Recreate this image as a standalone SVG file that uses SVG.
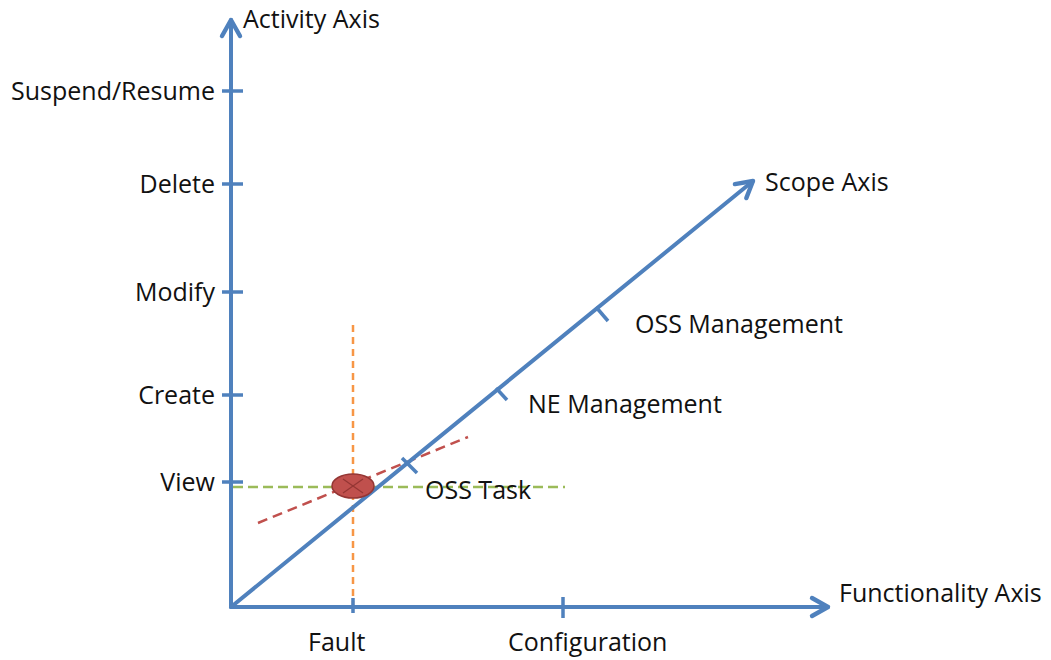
<svg xmlns="http://www.w3.org/2000/svg" width="1051" height="660" viewBox="0 0 1051 660">
  <style>
    .axis { stroke: #4F81BD; stroke-width: 4; fill: none; stroke-linecap: round; }
    .tick { stroke: #4F81BD; stroke-width: 3.5; fill: none; }
    .lbl { font-family: "Open Sans", "Liberation Sans", sans-serif; font-size: 25px; fill: #111111; }
    .end { text-anchor: end; }
  </style>
  <defs>
    <marker id="arrow" viewBox="0 0 12 12" refX="10" refY="6" markerWidth="6" markerHeight="6" orient="auto" markerUnits="strokeWidth">
      <path d="M2,1.5 L10,6 L2,10.5" fill="none" stroke="#4F81BD" stroke-width="2.2" stroke-linecap="round" stroke-linejoin="round"/>
    </marker>
  </defs>
  <rect width="1051" height="660" fill="#ffffff"/>

  <!-- guide lines through the task point -->
  <g id="guides">
    <line x1="353" y1="325" x2="353" y2="606" stroke="#F79646" stroke-width="2.5" stroke-dasharray="7,5"/>
    <line x1="233" y1="487" x2="565" y2="487" stroke="#9BBB59" stroke-width="2.5" stroke-dasharray="10,5"/>
    <line x1="258" y1="523" x2="468" y2="437" stroke="#C0504D" stroke-width="2.5" stroke-dasharray="10,6"/>
  </g>

  <!-- axes -->
  <g id="connectors">
    <line class="axis" x1="231" y1="607" x2="231" y2="20" marker-end="url(#arrow)"/>
    <line class="axis" x1="231" y1="607" x2="828" y2="607" marker-end="url(#arrow)"/>
    <line class="axis" x1="231" y1="607" x2="753" y2="181" marker-end="url(#arrow)"/>
  </g>

  <!-- activity ticks -->
  <g id="activity-ticks">
    <line class="tick" x1="222" y1="91" x2="243" y2="91"/>
    <line class="tick" x1="222" y1="184" x2="243" y2="184"/>
    <line class="tick" x1="222" y1="292" x2="243" y2="292"/>
    <line class="tick" x1="222" y1="395" x2="243" y2="395"/>
    <line class="tick" x1="222" y1="482" x2="243" y2="482"/>
  </g>

  <!-- functionality ticks -->
  <g id="functionality-ticks">
    <line class="tick" x1="353" y1="598" x2="353" y2="613"/>
    <line class="tick" x1="563" y1="597" x2="563" y2="618"/>
  </g>

  <!-- scope ticks -->
  <g id="scope-ticks">
    <line class="tick" x1="402" y1="458" x2="417" y2="473"/>
    <line class="tick" x1="496" y1="388" x2="507" y2="400"/>
    <line class="tick" x1="596" y1="307" x2="608" y2="321"/>
  </g>

  <!-- task marker -->
  <g id="task-point">
    <ellipse cx="353" cy="486" rx="21" ry="12" fill="#C0504D" stroke="#943634" stroke-width="1.5"/>
    <line x1="343" y1="479" x2="363" y2="493" stroke="#943634" stroke-width="1.2"/>
    <line x1="343" y1="493" x2="363" y2="479" stroke="#943634" stroke-width="1.2"/>
  </g>

  <!-- labels -->
  <g id="labels">
    <text class="lbl" x="243" y="28">Activity Axis</text>
    <text class="lbl end" x="215" y="100">Suspend/Resume</text>
    <text class="lbl end" x="215" y="193">Delete</text>
    <text class="lbl end" x="215" y="301">Modify</text>
    <text class="lbl end" x="215" y="404">Create</text>
    <text class="lbl end" x="215" y="491">View</text>
    <text class="lbl" x="765" y="191">Scope Axis</text>
    <text class="lbl" x="635" y="333">OSS Management</text>
    <text class="lbl" x="528" y="413">NE Management</text>
    <text class="lbl" x="425" y="499">OSS Task</text>
    <text class="lbl" x="839" y="602">Functionality Axis</text>
    <text class="lbl" x="308" y="651">Fault</text>
    <text class="lbl" x="508" y="651">Configuration</text>
  </g>
</svg>
